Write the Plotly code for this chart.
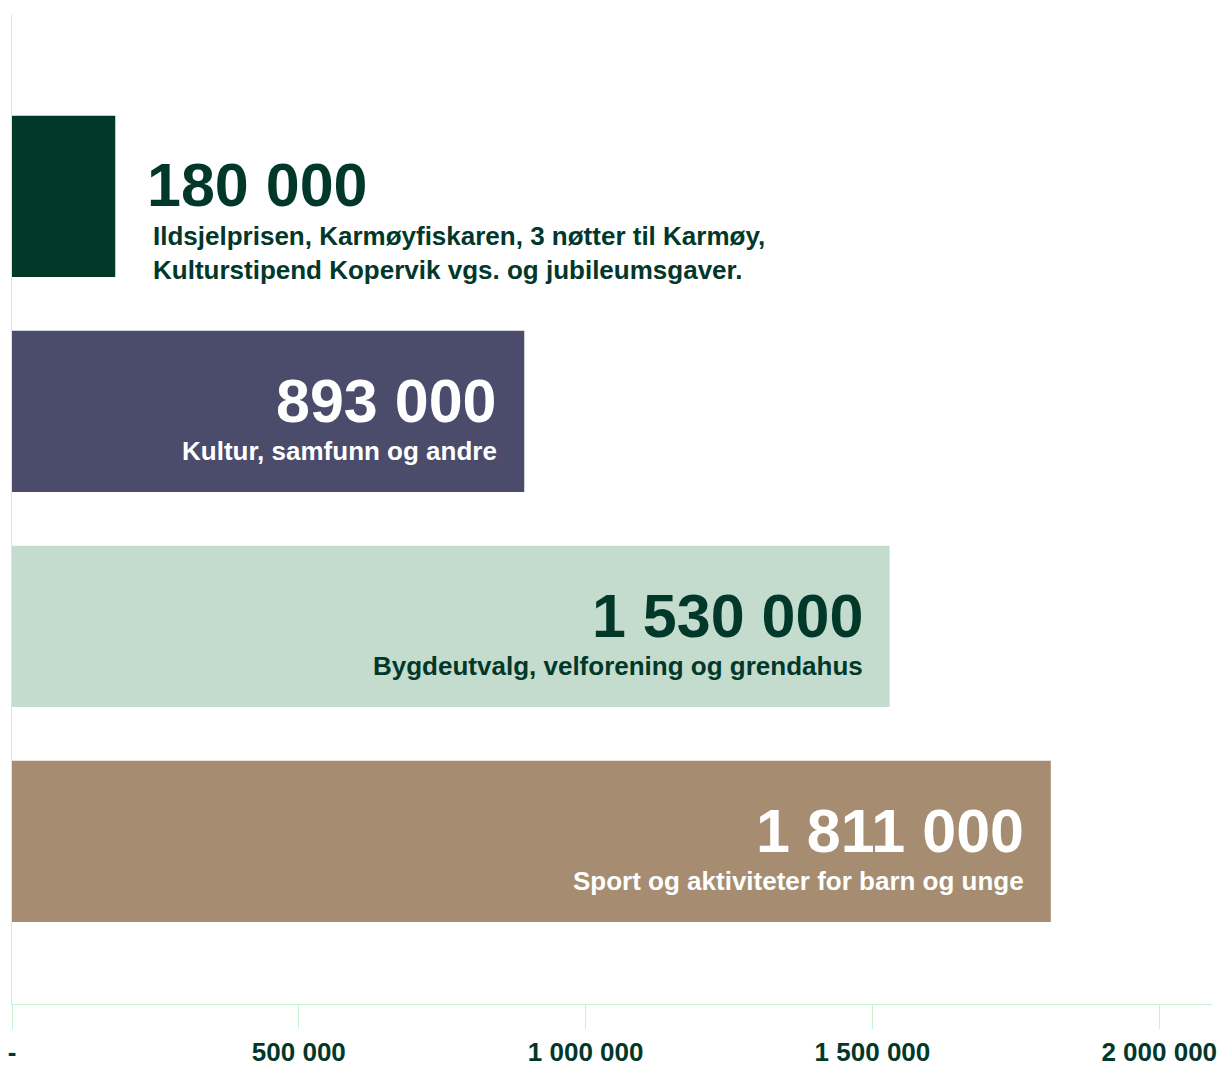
import plotly.graph_objects as go

# Grant amounts per category (NOK)
values = [180000, 893000, 1530000, 1811000]
descriptions = [
    "Ildsjelprisen, Karmøyfiskaren, 3 nøtter til Karmøy,<br>Kulturstipend Kopervik vgs. og jubileumsgaver.",
    "Kultur, samfunn og andre",
    "Bygdeutvalg, velforening og grendahus",
    "Sport og aktiviteter for barn og unge",
]
bar_colors = ["#02382a", "#4b4c6c", "#c3dcce", "#a68d71"]
text_colors = ["#02382a", "#ffffff", "#02382a", "#ffffff"]

tick_vals = [0, 500000, 1000000, 1500000, 2000000]
tick_text = ["-", "500 000", "1 000 000", "1 500 000", "2 000 000"]

DARK = "#02382a"
MINT = "#c8f2d6"
FONT = "Liberation Sans, Arial, Helvetica, sans-serif"


def fmt(v):
    return f"{v:,}".replace(",", " ")


positions = list(range(len(values)))

fig = go.Figure(
    go.Bar(
        x=values,
        y=positions,
        orientation="h",
        width=0.75,
        marker=dict(color=bar_colors, line=dict(width=0)),
        hoverinfo="skip",
    )
)

annotations = []
for i, (v, desc, tc) in enumerate(zip(values, descriptions, text_colors)):
    if i == 0:
        # Short bar: labels sit to the right of the bar, left-aligned
        annotations.append(dict(
            x=v, y=i, xref="x", yref="y", xanchor="left", yanchor="middle",
            xshift=30, yshift=11, showarrow=False, align="left",
            text=f"<b>{fmt(v)}</b>", font=dict(family=FONT, size=61, color=tc),
        ))
        annotations.append(dict(
            x=v, y=i, xref="x", yref="y", xanchor="left", yanchor="middle",
            xshift=36, yshift=-57, showarrow=False, align="left",
            text=f"<b>{desc}</b>", font=dict(family=FONT, size=26, color=tc),
        ))
    else:
        # Long bars: labels inside, right-aligned near the bar end
        annotations.append(dict(
            x=v, y=i, xref="x", yref="y", xanchor="right", yanchor="middle",
            xshift=-25, yshift=10, showarrow=False, align="right",
            text=f"<b>{fmt(v)}</b>", font=dict(family=FONT, size=61, color=tc),
        ))
        annotations.append(dict(
            x=v, y=i, xref="x", yref="y", xanchor="right", yanchor="middle",
            xshift=-25, yshift=-40, showarrow=False, align="right",
            text=f"<b>{desc}</b>", font=dict(family=FONT, size=26, color=tc),
        ))

fig.update_layout(
    width=1219,
    height=1066,
    margin=dict(l=12, r=7, t=15, b=62),
    paper_bgcolor="white",
    plot_bgcolor="white",
    showlegend=False,
    annotations=annotations,
    xaxis=dict(
        range=[0, 2092000],
        tickvals=tick_vals,
        ticktext=tick_text,
        ticks="outside",
        ticklen=24,
        tickwidth=1,
        tickcolor=MINT,
        ticklabelstandoff=1,
        ticklabeloverflow="allow",
        automargin=False,
        showline=True,
        linecolor=MINT,
        linewidth=1,
        showgrid=False,
        zeroline=False,
        tickfont=dict(family=FONT, size=26, color=DARK, weight="bold"),
        fixedrange=True,
    ),
    yaxis=dict(
        range=[3.756, -0.844],
        showticklabels=False,
        ticks="",
        automargin=False,
        showline=True,
        linecolor=MINT,
        linewidth=1,
        showgrid=False,
        zeroline=False,
        fixedrange=True,
    ),
)

fig.write_html("out.html")
